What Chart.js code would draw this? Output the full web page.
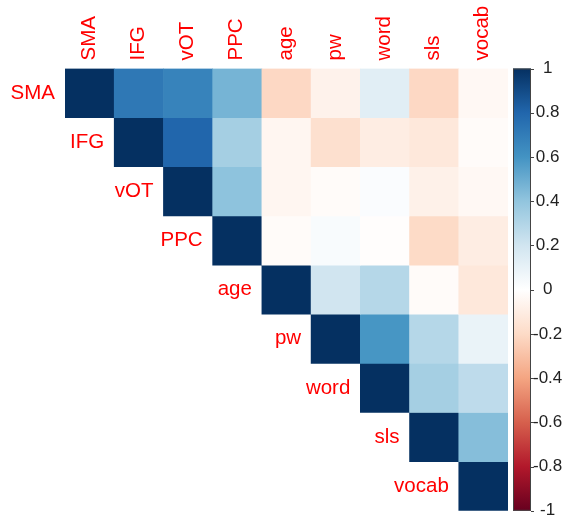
<!DOCTYPE html>
<html>
<head>
<meta charset="utf-8">
<script src="https://cdn.jsdelivr.net/npm/chart.js@4.4.1/dist/chart.umd.min.js"></script>
<style>
  html, body { margin: 0; padding: 0; background: #fff; }
</style>
</head>
<body>
<canvas id="corr" width="564" height="521"></canvas>
<script>
// variables (columns across the top, rows down the diagonal)
const variables = ['SMA', 'IFG', 'vOT', 'PPC', 'age', 'pw', 'word', 'sls', 'vocab'];

// upper triangle, each row starts at its diagonal cell
const rowSMA   = [1, 0.72, 0.67, 0.47, -0.21, -0.07, 0.13, -0.21, -0.04];
const rowIFG   = [1, 0.80, 0.34, -0.05, -0.17, -0.10, -0.13, -0.02];
const rowVOT   = [1, 0.41, -0.05, -0.02, 0.02, -0.08, -0.04];
const rowPPC   = [1, -0.02, 0.03, -0.01, -0.20, -0.10];
const rowAge   = [1, 0.20, 0.29, -0.02, -0.13];
const rowPw    = [1, 0.59, 0.29, 0.09];
const rowWord  = [1, 0.34, 0.26];
const rowSls   = [1, 0.43];
const rowVocab = [1];
const rows = [rowSMA, rowIFG, rowVOT, rowPPC, rowAge, rowPw, rowWord, rowSls, rowVocab];

const colorbarTicks = [-1, -0.8, -0.6, -0.4, -0.2, 0, 0.2, 0.4, 0.6, 0.8, 1];

// RdBu palette, -1 .. 1
const palette = ['#67001F', '#B2182B', '#D6604D', '#F4A582', '#FDDBC7', '#FFFFFF',
                 '#D1E5F0', '#92C5DE', '#4393C3', '#2166AC', '#053061'];

function hexRgb(h) {
    return [1, 3, 5].map(k => parseInt(h.slice(k, k + 2), 16));
}

function corColor(v) {
    const pos = (v + 1) / 2 * (palette.length - 1);
    const k = Math.min(Math.floor(pos), palette.length - 2);
    const t = pos - k;
    const a = hexRgb(palette[k]), b = hexRgb(palette[k + 1]);
    const c = a.map((x, n) => Math.round(x + (b[n] - x) * t));
    return 'rgb(' + c.join(',') + ')';
}

const datasets = rows.map((row, i) => ({
    label: variables[i],
    data: variables.map((_, j) => j >= i ? [i, i + 1] : null),
    backgroundColor: variables.map((_, j) => j >= i ? corColor(row[j - i]) : 'transparent'),
    borderWidth: 0,
    barPercentage: 1,
    categoryPercentage: 1,
    grouped: false
}));

const FONT = '"Liberation Sans", Arial, sans-serif';

// row names to the left of each diagonal cell
const rowLabels = {
    id: 'rowLabels',
    afterDatasetsDraw(chart) {
        const { ctx, scales: { x, y } } = chart;
        const half = (x.getPixelForValue(1) - x.getPixelForValue(0)) / 2;
        ctx.save();
        ctx.font = '20.5px ' + FONT;
        ctx.fillStyle = 'red';
        ctx.textAlign = 'right';
        ctx.textBaseline = 'middle';
        variables.forEach((v, i) => {
            ctx.fillText(v, x.getPixelForValue(i) - half - 10, y.getPixelForValue(i + 0.5));
        });
        ctx.restore();
    }
};

// colour key drawn against the cb scale
const colorbar = {
    id: 'colorbar',
    afterDraw(chart) {
        const { ctx, chartArea, scales: { cb } } = chart;
        const left = chartArea.right + 5, w = 18;
        const top = cb.getPixelForValue(1), bottom = cb.getPixelForValue(-1);
        const g = ctx.createLinearGradient(0, bottom, 0, top);
        palette.forEach((c, k) => g.addColorStop(k / (palette.length - 1), c));
        ctx.save();
        ctx.fillStyle = g;
        ctx.fillRect(left, top, w, bottom - top);
        ctx.strokeStyle = '#444';
        ctx.lineWidth = 1;
        ctx.strokeRect(left + 0.5, top + 0.5, w - 1, bottom - top - 1);
        ctx.beginPath();
        colorbarTicks.forEach(t => {
            const yy = Math.round(cb.getPixelForValue(t)) + 0.5;
            ctx.moveTo(left + w, yy);
            ctx.lineTo(left + w + 3, yy);
        });
        ctx.stroke();
        ctx.restore();
    }
};

new Chart(document.getElementById('corr').getContext('2d'), {
    type: 'bar',
    data: { labels: variables, datasets: datasets },
    options: {
        responsive: false,
        animation: false,
        layout: { padding: { left: 65, bottom: 10, top: 0, right: 0 } },
        plugins: { legend: { display: false }, tooltip: { enabled: false } },
        scales: {
            x: {
                type: 'category',
                position: 'top',
                grid: { display: false, drawTicks: false },
                border: { display: false },
                ticks: {
                    color: 'red',
                    font: { size: 20.5, family: FONT },
                    minRotation: 90,
                    maxRotation: 90,
                    padding: 8,
                    labelOffset: 24,
                    autoSkip: false
                },
                afterFit: s => { s.height = 68.5; }
            },
            y: {
                type: 'linear',
                min: 0,
                max: 9,
                reverse: true,
                display: false
            },
            cb: {
                type: 'linear',
                position: 'right',
                min: -1,
                max: 1,
                // invisible tick marks push the labels past the colour bar
                grid: { display: true, drawOnChartArea: false, drawTicks: true, tickLength: 25, color: 'transparent' },
                border: { display: false },
                afterBuildTicks: s => { s.ticks = colorbarTicks.map(v => ({ value: v })); },
                ticks: {
                    color: '#222',
                    font: { size: 17, family: FONT },
                    crossAlign: 'center',
                    padding: 0,
                    callback: v => String(v)
                },
                afterFit: s => { s.width = 56; }
            }
        }
    },
    plugins: [rowLabels, colorbar]
});
</script>
</body>
</html>
